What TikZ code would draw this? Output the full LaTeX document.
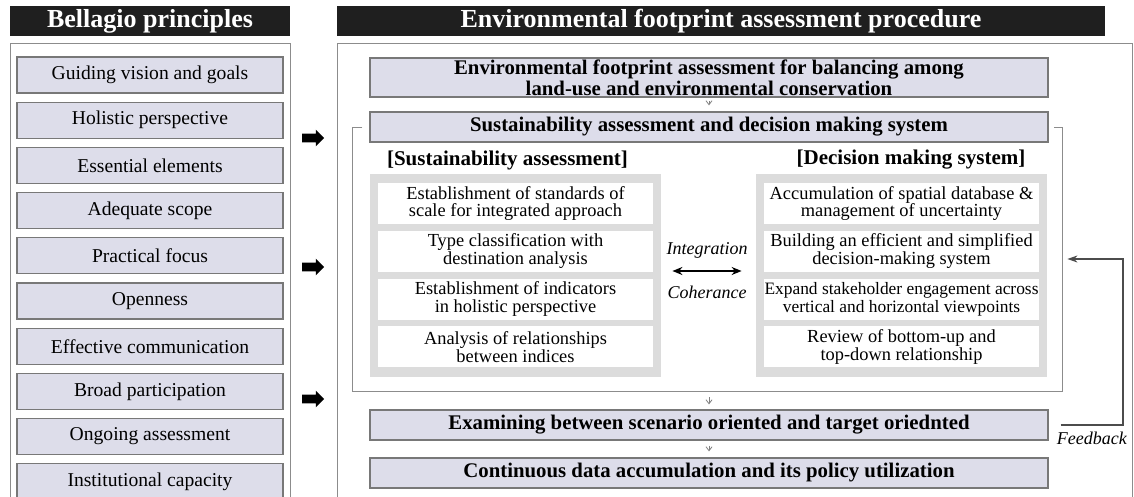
\documentclass[tikz,border=0pt]{standalone}
\usepackage{fontspec}
\setmainfont{Liberation Serif}
\usetikzlibrary{positioning, shapes.arrows, arrows.meta}
\definecolor{lavender}{RGB}{221,221,234}
\definecolor{panelgray}{RGB}{220,220,220}
\definecolor{edgegray}{RGB}{120,120,120}
\definecolor{framegray}{RGB}{140,140,140}

\begin{document}
\begin{tikzpicture}[x=0.5pt, y=-0.5pt,
  head/.style={fill=black!88, text=white, minimum height=15pt, inner sep=0pt,
    font=\bfseries\fontsize{13}{15}\selectfont},
  principle/.style={draw=edgegray, line width=0.6pt, fill=lavender, minimum width=133pt,
    minimum height=18pt, inner sep=0pt, font=\fontsize{9.8}{11}\selectfont},
  stage/.style={draw=edgegray, line width=0.6pt, fill=lavender, minimum width=339pt,
    minimum height=15pt, inner sep=0pt, align=center, font=\bfseries\fontsize{10.4}{8.8}\selectfont},
  panel/.style={fill=panelgray, minimum width=145.5pt, minimum height=101.5pt, inner sep=0pt},
  item/.style={fill=white, minimum width=137.5pt, minimum height=20.5pt, inner sep=0pt,
    align=center, font=\fontsize{9.2}{8.8}\selectfont},
  sublabel/.style={font=\bfseries\fontsize{10.5}{12}\selectfont},
  pointer/.style={single arrow, fill=black, inner xsep=0pt, inner ysep=2pt,
    minimum height=11pt, single arrow head extend=2pt},
  frameline/.style={draw=framegray, line width=0.5pt},
  flowtip/.style={draw=gray, line width=0.4pt, -{Straight Barb[length=2pt, width=3pt]}},
  feedline/.style={draw=black!70, line width=0.6pt, -{Stealth[length=5pt, width=3.5pt]}}
]
\useasboundingbox (0,0) rectangle (1134,497);

% headers and outer frames
\node[head, minimum width=140pt] (bellhead) at (150,21) {Bellagio principles};
\node[head, minimum width=384pt] (prochead) at (721,21) {Environmental footprint assessment procedure};
\draw[frameline] (10,497) |- (290,44) -- (290,497);
\draw[frameline] (337,497) |- (1132,44) -- (1132,497);

% Bellagio principles
\node[principle] (vision) at (150,75) {Guiding vision and goals};
\node[principle, below=4pt of vision] (holistic) {Holistic perspective};
\node[principle, below=4pt of holistic] (essential) {Essential elements};
\node[principle, below=4pt of essential] (scope) {Adequate scope};
\node[principle, below=4pt of scope] (practical) {Practical focus};
\node[principle, below=4pt of practical] (openness) {Openness};
\node[principle, below=4pt of openness] (communic) {Effective communication};
\node[principle, below=4pt of communic] (particip) {Broad participation};
\node[principle, below=4pt of particip] (ongoing) {Ongoing assessment};
\node[principle, below=4pt of ongoing] (capacity) {Institutional capacity};

\node[pointer] (ptrA) at (311,138) {};
\node[pointer] (ptrB) at (311,267) {};
\node[pointer] (ptrC) at (311,399) {};

% procedure
\node[stage, minimum height=19.5pt] (balance) at (709,77.5)
  {Environmental footprint assessment for balancing among\\land-use and environmental conservation};
\node[stage] (sads) at (709,127) {Sustainability assessment and decision making system};
\node[minimum width=354.5pt, minimum height=131.5pt, inner sep=0pt] (frame) at (707.5,259.5) {};
\draw[frameline] ([xshift=-3.5pt]sads.west |- frame.north) -- (frame.north west)
  -- (frame.south west) -- (frame.south east) -- (frame.north east)
  -- ([xshift=2.5pt]sads.east |- frame.north);

\node[sublabel] (salabel) at (507.5,160) {[Sustainability assessment]};
\node[sublabel] (dmlabel) at (911,160) {[Decision making system]};

\node[panel] (sapanel) at (515.5,275.5) {};
\node[panel] (dmpanel) at (901.5,275.5) {};

\node[item] (sa1) at (515.5,203.5) {Establishment of standards of\\scale for integrated approach};
\node[item, below=3pt of sa1] (sa2) {Type classification with\\destination analysis};
\node[item, below=3pt of sa2] (sa3) {Establishment of indicators\\in holistic perspective};
\node[item, below=3pt of sa3] (sa4) {Analysis of relationships\\between indices};

\node[item] (dm1) at (901.5,203.5) {Accumulation of spatial database \&\\management of uncertainty};
\node[item, below=3pt of dm1] (dm2) {Building an efficient and simplified\\decision-making system};
\node[item, below=3pt of dm2, font=\fontsize{8.7}{8.8}\selectfont] (dm3) {Expand stakeholder engagement across\\vertical and horizontal viewpoints};
\node[item, below=3pt of dm3] (dm4) {Review of bottom-up and\\top-down relationship};

\draw[line width=0.7pt, {Stealth[length=5pt, width=4pt]}-{Stealth[length=5pt, width=4pt]}]
  ([xshift=5.5pt, yshift=2.25pt]sapanel.east) --
  node[above=2.5pt, font=\itshape\fontsize{9}{10}\selectfont] {Integration}
  node[below=4pt, font=\itshape\fontsize{9}{10}\selectfont] {Coherance}
  ([xshift=-7pt, yshift=2.25pt]dmpanel.west);

\node[stage] (exam) at (709,425) {Examining between scenario oriented and target oriednted};
\node[stage] (cont) at (709,473) {Continuous data accumulation and its policy utilization};

\draw[flowtip, shorten <=1.5pt, shorten >=3pt] (balance) -- (sads);
\draw[flowtip, shorten <=3pt, shorten >=2.5pt] (exam.north |- frame.south) -- (exam.north);
\draw[flowtip, shorten <=2.5pt, shorten >=3pt] (exam) -- (cont);

% feedback loop
\coordinate (fbturn) at (1123,259);
\draw[feedline] ([xshift=6pt]exam.east) -| (fbturn)
  node[pos=0.25, below, font=\itshape\fontsize{9}{10}\selectfont] {Feedback}
  -- ([xshift=2.5pt]frame.east |- fbturn);
\end{tikzpicture}
\end{document}
